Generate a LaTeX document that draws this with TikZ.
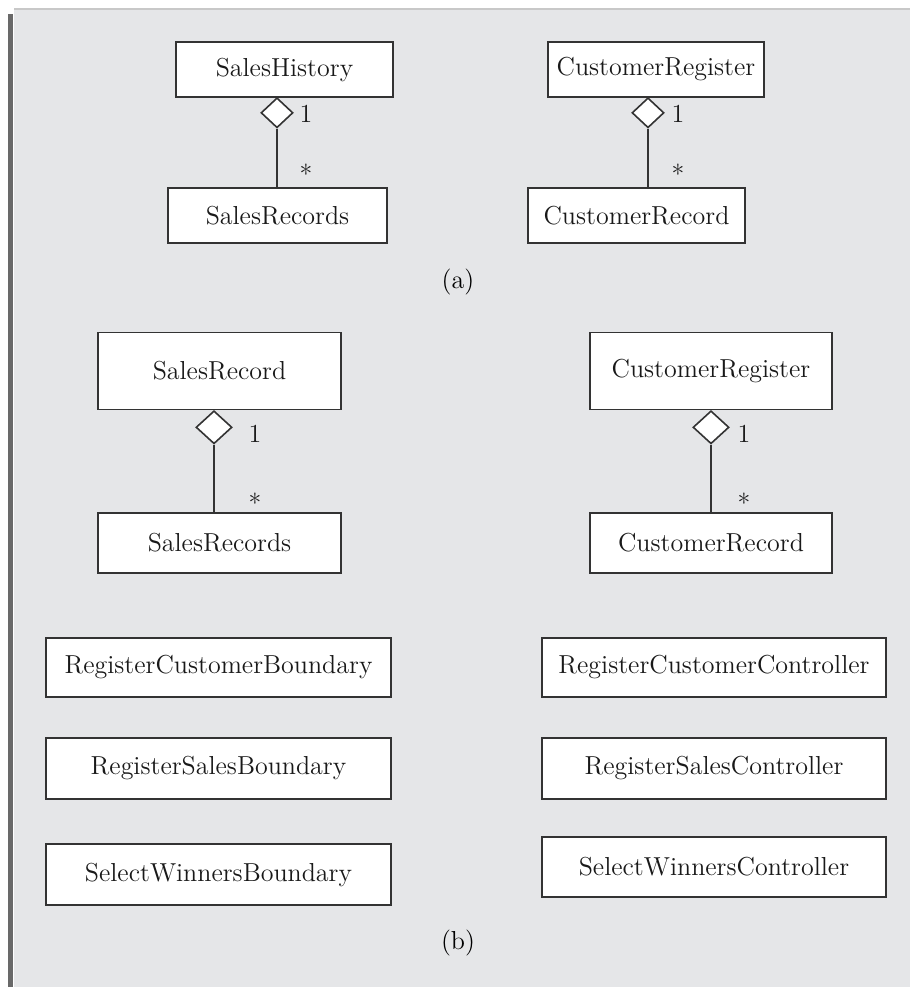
\documentclass[tikz,border=0pt]{standalone}
\usepackage{tikz}
\usetikzlibrary{shapes.geometric}
\definecolor{panelgray}{RGB}{229,230,232}
\definecolor{bargray}{RGB}{105,105,105}
\definecolor{rulegray}{RGB}{200,200,200}
\tikzset{
  classbox/.style={
    rectangle,
    draw=black!80,
    fill=white,
    line width=0.9pt,
    inner sep=0pt,
    text=black!90,
    font=\fontsize{13}{15}\selectfont
  },
  aggr/.style={
    diamond,
    draw=black!80,
    fill=white,
    line width=0.8pt,
    inner sep=0pt,
    anchor=north
  },
  mult/.style={
    inner sep=0pt,
    anchor=north,
    text=black!90,
    font=\fontsize{13}{15}\selectfont
  },
  link/.style={
    draw=black!80,
    line width=0.8pt
  }
}

\begin{document}
\begin{tikzpicture}[x=0.5pt, y=-0.5pt]
    % rahmen: 1 Einheit = 1 Pixel des Vorbilds
    \useasboundingbox (0,0) rectangle (910,987);
    \fill[panelgray] (14,9) rectangle (910,987);
    \draw[rulegray, line width=1pt] (14,8.5) -- (910,8.5);
    \fill[bargray] (8,14) rectangle (13,987);

    % (a) Aggregationen
    \node[classbox, minimum width=108.5pt, minimum height=27.5pt] (hist) at (284.5,69.5) {SalesHistory};
    \node[classbox, minimum width=109.5pt, minimum height=27.5pt] (recsA) at (277.5,215.5) {SalesRecords};
    \node[aggr, minimum width=16pt, minimum height=15pt] (dA1) at (277,97) {};
    \draw[link] (dA1.south) -- (dA1.south |- recsA.north);
    \node[mult] (oneA1) at (306,105) {1};
    \node[mult] (manyA1) at (306,164) {*};

    \node[classbox, minimum width=108pt, minimum height=27.5pt] (cregA) at (656,69.5) {CustomerRegister};
    \node[classbox, minimum width=108.5pt, minimum height=27.5pt] (crecA) at (636.5,215.5) {CustomerRecord};
    \node[aggr, minimum width=16pt, minimum height=15pt] (dA2) at (648,97) {};
    \draw[link] (dA2.south) -- (dA2.south |- crecA.north);
    \node[mult] (oneA2) at (678,105) {1};
    \node[mult] (manyA2) at (678,164) {*};

    \node[font=\fontsize{13}{15}\selectfont] (capA) at (458,282) {(a)};

    % (b) Aggregationen
    \node[classbox, minimum width=121.5pt, minimum height=38.5pt] (srecB) at (219.5,371) {SalesRecord};
    \node[classbox, minimum width=121.5pt, minimum height=30pt] (srecsB) at (219.5,543) {SalesRecords};
    \node[aggr, minimum width=18pt, minimum height=16.5pt] (dB1) at (214,410) {};
    \draw[link] (dB1.south) -- (dB1.south |- srecsB.north);
    \node[mult] (oneB1) at (255,425) {1};
    \node[mult] (manyB1) at (255,493) {*};

    \node[classbox, minimum width=121pt, minimum height=38.5pt] (cregB) at (711,371) {CustomerRegister};
    \node[classbox, minimum width=121pt, minimum height=30pt] (crecB) at (711,543) {CustomerRecord};
    \node[aggr, minimum width=18pt, minimum height=16.5pt] (dB2) at (711,410) {};
    \draw[link] (dB2.south) -- (dB2.south |- crecB.north);
    \node[mult] (oneB2) at (744,425) {1};
    \node[mult] (manyB2) at (744,493) {*};

    % Boundary- und Controller-Klassen
    \foreach \name/\txt/\y/\h in {rcb/RegisterCustomerBoundary/667.5/29.5,
                                  rsb/RegisterSalesBoundary/768.5/30.5,
                                  swb/SelectWinnersBoundary/874.5/30.5} {
      \node[classbox, minimum width=172.5pt, minimum height=\h pt] (\name) at (218.5,\y) {\txt};
    }
    \foreach \name/\txt/\y/\h in {rcc/RegisterCustomerController/667.5/29.5,
                                  rsc/RegisterSalesController/768.5/30.5,
                                  swc/SelectWinnersController/867/30} {
      \node[classbox, minimum width=172pt, minimum height=\h pt] (\name) at (714,\y) {\txt};
    }

    \node[font=\fontsize{13}{15}\selectfont] (capB) at (458,943) {(b)};

\end{tikzpicture}
\end{document}
